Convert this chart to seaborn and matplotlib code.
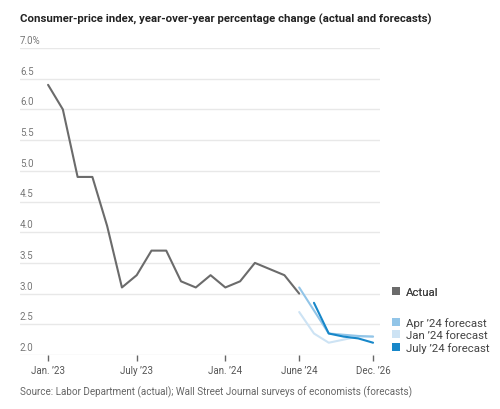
import matplotlib
matplotlib.use("Agg")
import matplotlib.pyplot as plt
import matplotlib.transforms as mtransforms
from matplotlib.patches import Patch
import seaborn as sns
import pandas as pd

# ---- data ----
actual_pos = list(range(18))  # Jan '23 .. June '24, monthly
actual_values = [6.4, 6.0, 4.9, 4.9, 4.1, 3.1, 3.3, 3.7, 3.7, 3.2, 3.1, 3.3,
                 3.1, 3.2, 3.5, 3.4, 3.3, 3.0]

jan_pos = [17, 18, 19, 20, 21, 22]
jan_values = [2.7, 2.35, 2.2, 2.25, 2.3, 2.3]

apr_pos = [17, 19, 20, 21, 22]
apr_values = [3.1, 2.35, 2.33, 2.31, 2.3]

jul_pos = [18, 19, 20, 21, 22]
jul_values = [2.85, 2.35, 2.3, 2.27, 2.2]

xtick_pos = [0, 6, 12, 17, 22]
xtick_labels = ["Jan. \u201923", "July \u201923", "Jan. \u201924", "June \u201924", "Dec. \u201926"]
ytick_values = [2.0, 2.5, 3.0, 3.5, 4.0, 4.5, 5.0, 5.5, 6.0, 6.5, 7.0]
ytick_labels = ["2.0", "2.5", "3.0", "3.5", "4.0", "4.5", "5.0", "5.5", "6.0", "6.5", "7.0%"]

series_names = ["Jan \u201924 forecast", "Apr \u201924 forecast", "July \u201924 forecast", "Actual"]
colors = {"Actual": "#6b6b6b", "Apr \u201924 forecast": "#92c5e8",
          "Jan \u201924 forecast": "#cde3f4", "July \u201924 forecast": "#1787c9"}

frames = []
for name, pos, vals in [(series_names[0], jan_pos, jan_values),
                        (series_names[1], apr_pos, apr_values),
                        (series_names[2], jul_pos, jul_values),
                        (series_names[3], actual_pos, actual_values)]:
    frames.append(pd.DataFrame({"x": pos, "value": vals, "series": name}))
df = pd.concat(frames, ignore_index=True)

# ---- figure ----
sns.set_theme(style="white")
FONT = ["Roboto", "DejaVu Sans"]
plt.rcParams["font.family"] = FONT

fig = plt.figure(figsize=(5.0, 4.1), dpi=100)
ax = fig.add_axes([0.04, 1 - 356 / 410, 0.72, (356 - 49) / 410])

for name in series_names:
    sub = df[df["series"] == name]
    sns.lineplot(data=sub, x="x", y="value", color=colors[name], linewidth=1.5,
                 ax=ax, legend=False, sort=True, zorder=3)

ax.set_xlim(-1.9, 22.47)
ax.set_ylim(2.0, 7.0)
for s in ax.spines.values():
    s.set_visible(False)

ax.set_yticks(ytick_values)
ax.set_yticklabels([])
ax.tick_params(axis="y", length=0)
ax.grid(axis="y", color="#e8e8e8", linewidth=1.0, zorder=0)
ax.grid(axis="x", visible=False)

ytrans = ax.get_yaxis_transform()
off = mtransforms.offset_copy(ytrans, fig=fig, x=0, y=3, units="dots")
for v, lab in zip(ytick_values, ytick_labels):
    ax.text(0, v, lab, transform=off, ha="left", va="bottom",
            fontsize=7, color="#777777")

ax.set_xticks(xtick_pos)
ax.set_xticklabels(xtick_labels, fontsize=7, color="#555555")
ax.tick_params(axis="x", length=4, width=1, color="#666666", direction="out",
               pad=3, bottom=True)
ax.set_xlabel("")
ax.set_ylabel("")

fig.text(0.04, 1 - 19 / 410, "Consumer-price index, year-over-year percentage change (actual and forecasts)",
         ha="left", va="center", fontsize=8.2, fontweight="bold", color="#222222")
fig.text(0.04, 1 - 392 / 410,
         "Source: Labor Department (actual); Wall Street Journal surveys of economists (forecasts)",
         ha="left", va="center", fontsize=7.1, color="#666666")

h_actual = [Patch(facecolor=colors["Actual"], edgecolor="none")]
leg1 = fig.legend(h_actual, ["Actual"], loc="center left",
                  bbox_to_anchor=(392 / 500, 1 - 293 / 410), frameon=False,
                  handlelength=0.7, handleheight=0.7, handletextpad=0.5,
                  fontsize=8.2, labelcolor="#444444", borderaxespad=0, borderpad=0)
fnames = ["Apr \u201924 forecast", "Jan \u201924 forecast", "July \u201924 forecast"]
h_f = [Patch(facecolor=colors[n], edgecolor="none") for n in fnames]
leg2 = fig.legend(h_f, fnames, loc="center left",
                  bbox_to_anchor=(392 / 500, 1 - 336 / 410), frameon=False,
                  handlelength=0.7, handleheight=0.7, handletextpad=0.5,
                  labelspacing=0.15, fontsize=8.2, labelcolor="#444444",
                  borderaxespad=0, borderpad=0)
fig.add_artist(leg1)

fig.savefig("out.png", dpi=100)
